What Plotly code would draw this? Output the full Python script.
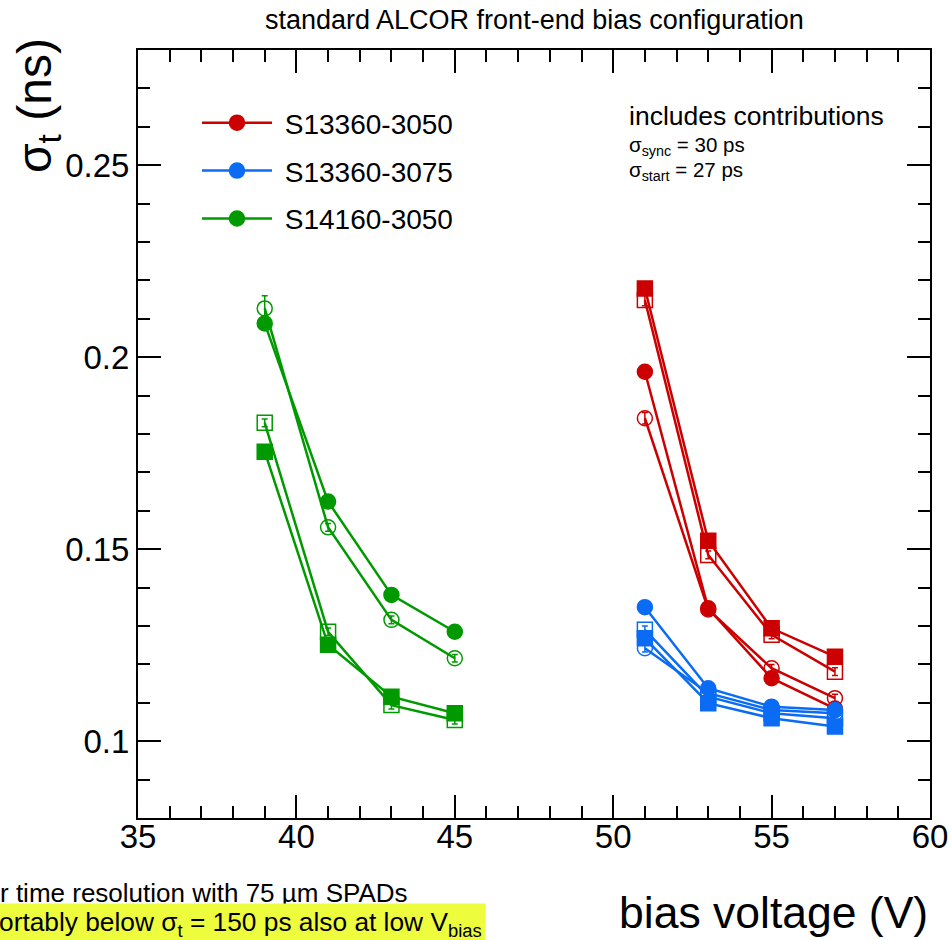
import plotly.graph_objects as go

# ---------------- data ----------------
volt_13360 = [51, 53, 55, 57]
volt_14160 = [39, 41, 43, 45]

# S13360-3050 (red)
r_filled_circle = [0.1962, 0.1346, 0.1164, 0.1085]
r_open_circle = [0.1841, 0.1343, 0.1190, 0.1112]
r_filled_square = [0.2179, 0.1522, 0.1294, 0.1220]
r_open_square = [0.2149, 0.1485, 0.1277, 0.1181]
r_err = [0.0015, 0.001, 0.001, 0.001]

# S13360-3075 (blue)
b_filled_circle = [0.1349, 0.1138, 0.1090, 0.1081]
b_open_circle = [0.1242, 0.1125, 0.1081, 0.1073]
b_filled_square = [0.1268, 0.1099, 0.1060, 0.1038]
b_open_square = [0.1290, 0.1116, 0.1073, 0.1060]
b_err = [0.001, 0.001, 0.001, 0.001]

# S14160-3050 (green)
g_filled_circle = [0.2088, 0.1624, 0.1381, 0.1285]
g_open_circle = [0.2127, 0.1557, 0.1316, 0.1216]
g_filled_square = [0.1754, 0.1251, 0.1116, 0.1073]
g_open_square = [0.1829, 0.1285, 0.1094, 0.1055]
g_err_open_circle = [0.0033, 0.001, 0.001, 0.001]
g_err = [0.001, 0.001, 0.001, 0.001]

x_tickvals = [35, 40, 45, 50, 55, 60]
y_tickvals = [0.1, 0.15, 0.2, 0.25]
y_ticktext = ["0.1", "0.15", "0.2", "0.25"]

RED = "#cc0000"
BLUE = "#0a6cf5"
GREEN = "#009a00"
FONT = "Liberation Sans, Arial, Helvetica, sans-serif"
NB = "\u00a0"

fig = go.Figure()


def add(x, y, err, color, symbol, name=None, legend=False):
    fig.add_trace(go.Scatter(
        x=x, y=y, mode="lines+markers",
        name=(NB + name) if name else "",
        showlegend=legend,
        legendgroup=name if name else None,
        line=dict(color=color, width=2.5),
        marker=dict(symbol=symbol, size=15, color=color,
                    line=dict(color=color, width=1.5)),
        error_y=dict(type="data", array=err, visible=True, color=color,
                     thickness=1.5, width=3),
    ))


# red
add(volt_13360, r_filled_square, r_err, RED, "square")
add(volt_13360, r_open_square, r_err, RED, "square-open")
add(volt_13360, r_open_circle, r_err, RED, "circle-open")
add(volt_13360, r_filled_circle, r_err, RED, "circle", name="S13360-3050", legend=True)
# blue
add(volt_13360, b_open_square, b_err, BLUE, "square-open")
add(volt_13360, b_open_circle, b_err, BLUE, "circle-open")
add(volt_13360, b_filled_square, b_err, BLUE, "square")
add(volt_13360, b_filled_circle, b_err, BLUE, "circle", name="S13360-3075", legend=True)
# green
add(volt_14160, g_open_square, g_err, GREEN, "square-open")
add(volt_14160, g_filled_square, g_err, GREEN, "square")
add(volt_14160, g_open_circle, g_err_open_circle, GREEN, "circle-open")
add(volt_14160, g_filled_circle, g_err, GREEN, "circle", name="S14160-3050", legend=True)

axis_common = dict(
    showline=True, linecolor="black", linewidth=2, mirror="ticks",
    ticks="inside", tickcolor="black", tickwidth=1.5, ticklen=23,
    showgrid=False, zeroline=False, automargin=False,
    tickfont=dict(family=FONT, size=33, color="black"),
)

fig.update_xaxes(range=[35, 60], tickvals=x_tickvals, ticklabelstandoff=-12,
                 minor=dict(dtick=1, ticks="inside", ticklen=12, tickcolor="black", tickwidth=1.5),
                 **axis_common)
fig.update_yaxes(range=[0.08, 0.28], tickvals=y_tickvals, ticktext=y_ticktext,
                 minor=dict(dtick=0.01, tick0=0.08, ticks="inside", ticklen=12, tickcolor="black", tickwidth=1.5),
                 **axis_common)

annotations = [
    # title
    dict(text="standard ALCOR front-end bias configuration", xref="paper", yref="paper",
         x=0, xshift=534 - 138, y=1, yshift=30, xanchor="center", yanchor="middle",
         showarrow=False, font=dict(family=FONT, size=27, color="black")),
    # axis titles
    dict(text="bias voltage (V)", xref="paper", yref="paper", x=1, y=0, yshift=-94,
         xanchor="right", yanchor="middle", showarrow=False,
         font=dict(family=FONT, size=44.5, color="black")),
    dict(text="σ<sub>t</sub> (ns)", xref="paper", yref="paper", x=0, xshift=-100,
         y=1, yshift=-56, xanchor="center", yanchor="middle", textangle=-90,
         showarrow=False, font=dict(family=FONT, size=48, color="black")),
    # info box
    dict(text="includes contributions", xref="paper", yref="paper", x=0, xshift=489,
         y=1, yshift=-66, xanchor="left", yanchor="middle", showarrow=False,
         font=dict(family=FONT, size=26.5, color="black")),
    dict(text="σ<sub>sync</sub> = 30 ps", xref="paper", yref="paper", x=0, xshift=489,
         y=1, yshift=-96, xanchor="left", yanchor="middle", showarrow=False,
         font=dict(family=FONT, size=20.5, color="black")),
    dict(text="σ<sub>start</sub> = 27 ps", xref="paper", yref="paper", x=0, xshift=489,
         y=1, yshift=-121, xanchor="left", yanchor="middle", showarrow=False,
         font=dict(family=FONT, size=20.5, color="black")),
    # slide text fragments below the chart
    dict(text="r time resolution with 75 µm SPADs", xref="paper", yref="paper", x=0, xshift=-140,
         y=0, yshift=-75, xanchor="left", yanchor="middle", showarrow=False,
         font=dict(family=FONT, size=26, color="black")),
    dict(text="ortably below σ<sub>t</sub> = 150 ps also at low V<sub>bias</sub>", xref="paper", yref="paper",
         x=0, xshift=-143, y=0, yshift=-106, xanchor="left", yanchor="middle", showarrow=False,
         bgcolor="#eefc3e", borderpad=3,
         font=dict(family=FONT, size=26.3, color="black")),
]

fig.update_layout(
    width=951, height=940,
    margin=dict(l=138, r=21, t=50, b=122, autoexpand=False),
    paper_bgcolor="white", plot_bgcolor="white",
    font=dict(family=FONT, color="black"),
    showlegend=True,
    legend=dict(x=(197 - 138) / 792.0, y=(818 - 98) / 768.0, xanchor="left", yanchor="top",
                bgcolor="rgba(0,0,0,0)", itemwidth=70, tracegroupgap=8.5,
                traceorder="grouped",
                font=dict(family=FONT, size=28, color="black")),
    annotations=annotations,
)

fig.write_html("out.html", config={"displayModeBar": False},
               post_script="document.body.style.margin='0';")
